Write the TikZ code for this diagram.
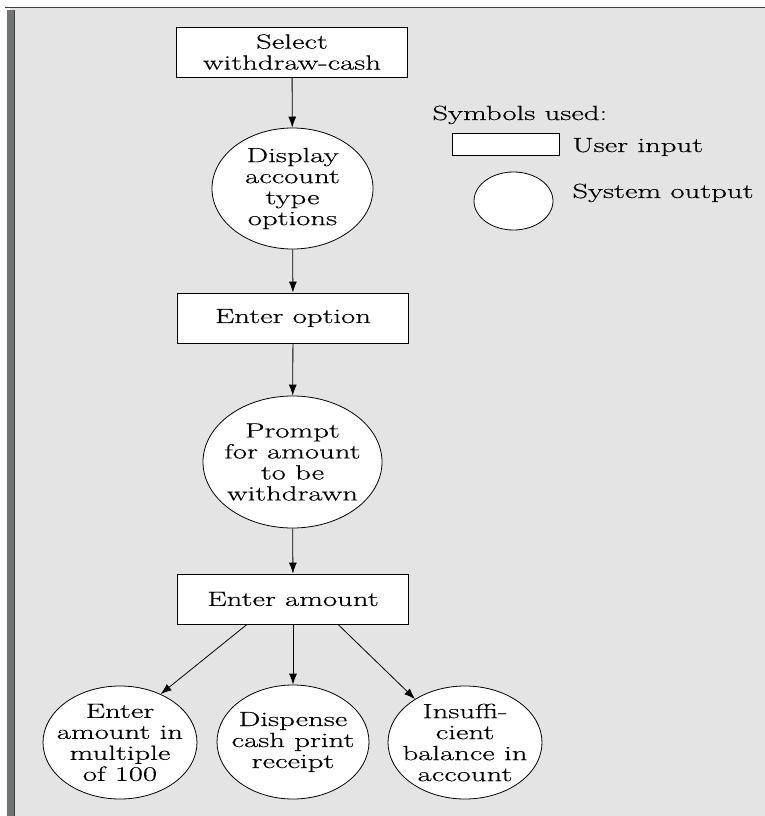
\documentclass[tikz,border=0pt]{standalone}
\usepackage{fontspec}
\setmainfont[FakeStretch=1.5, FakeBold=0.4]{Latin Modern Roman}
\usetikzlibrary{shapes.geometric,arrows.meta}
\definecolor{panelgray}{RGB}{228,228,228}
\definecolor{bargray}{RGB}{110,118,115}
\tikzset{input box/.style={
    draw, fill=white, rectangle, minimum width=231pt, minimum height=50pt,
    inner sep=0pt, align=center},
    output oval/.style={
    draw, fill=white, ellipse, inner xsep=-14pt, inner ysep=-6pt, align=center},
    flow/.style={-{Latex[length=11pt,width=8pt]}},
    key text/.style={inner sep=0pt, anchor=base west}
}

\begin{document}
\begin{tikzpicture}[x=1pt, y=-1pt, font=\fontsize{20.5}{21}\selectfont, line width=0.8pt]
        \useasboundingbox (0,0) rectangle (765,816);
        %panel
        \fill[panelgray] (10,8) rectangle (765,816);
        \draw[black!75, line width=1.2pt] (5,7.5) -- (765,7.5);
        \fill[bargray] (7,10) rectangle (14,816);
        \draw[black!75, line width=1pt] (14.5,10) -- (14.5,816);

        %flow
        \node[input box](select) at (292,52){Select\\withdraw-cash};
        \node[output oval, minimum width=161pt, minimum height=121pt](display) at (292.5,188.5){Display\\account\\type\\options};
        \node[input box](option) at (293,318){Enter option};
        \node[output oval, minimum width=179pt, minimum height=132pt](prompt) at (292.5,462){Prompt\\for amount\\to be\\withdrawn};
        \node[input box](amount) at (293,599){Enter amount};

        %outcomes
        \node[output oval, minimum width=154pt, minimum height=113pt](multiple) at (120,742.5){Enter\\amount in\\multiple\\of 100};
        \node[output oval, minimum width=152pt, minimum height=114pt](dispense) at (293,742){Dispense\\cash print\\receipt};
        \node[output oval, minimum width=154pt, minimum height=113pt](insufficient) at (465,742.5){Insuffi-\\cient\\balance in\\account};

        \draw[flow] (select) -- (display);
        \draw[flow] (display) -- (option);
        \draw[flow] (option) -- (prompt);
        \draw[flow] (prompt) -- (amount);
        \draw[flow] ([xshift=-46pt]amount.south) -- (multiple.50);
        \draw[flow] (amount) -- (dispense);
        \draw[flow] ([xshift=45pt]amount.south) -- (insufficient.139);

        %symbols used
        \node[key text](symbols) at (432,120){Symbols used:};
        \node[draw, fill=white, minimum width=107pt, minimum height=22pt, inner sep=0pt](keybox) at (505.5,144){};
        \node[key text](keyinput) at (572,152){User input};
        \node[draw, fill=white, ellipse, minimum width=79pt, minimum height=58pt, inner sep=0pt](keyoval) at (513.5,201){};
        \node[key text](keyoutput) at (572,198){System output};
\end{tikzpicture}
\end{document}
